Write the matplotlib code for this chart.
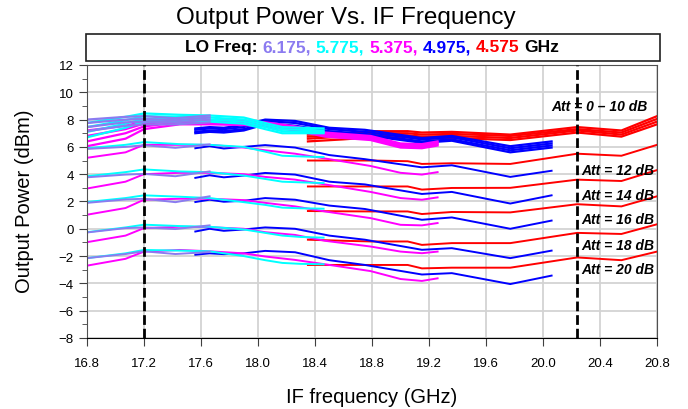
import matplotlib
matplotlib.use("Agg")
import matplotlib.pyplot as plt
from matplotlib.patches import Rectangle
from matplotlib.ticker import MultipleLocator

plt.rcParams['font.family'] = ['Liberation Sans', 'DejaVu Sans']

# IF sweep per LO setting; band = the Att 0..10 dB traces, att = 12/14/16/18/20 dB traces
att_steps = [12, 14, 16, 18, 20]
lo_freqs = ["6.175", "5.775", "5.375", "4.975", "4.575"]
lo_colors = ["#8B7BF0", "#00FFFF", "#FF00FF", "#0000FF", "#FF0000"]

purple_if = [16.8, 17.07, 17.2, 17.42, 17.66]
purple_band = [
    [8.0, 8.2, 8.25, 8.1, 8.3],
    [7.75, 8.0, 8.05, 7.95, 8.15],
    [7.45, 7.8, 7.85, 7.8, 8.0],
    [7.15, 7.55, 7.65, 7.65, 7.8],
]
purple_att = [
    [5.85, 6.0, 6.12, 5.93, 6.18],
    [3.77, 3.97, 4.02, 3.85, 4.2],
    [1.9, 2.15, 2.2, 1.95, 2.38],
    [-0.27, 0.05, 0.1, -0.02, 0.25],
    [-2.15, -1.85, -1.65, -1.85, -1.7],
]

cyan_if = [16.8, 17.07, 17.2, 17.45, 17.66, 17.9, 18.05, 18.17, 18.3, 18.46]
cyan_band = [
    [7.75, 8.2, 8.45, 8.35, 8.3, 8.15, 7.75, 7.45, 7.4, 7.35],
    [7.45, 7.95, 8.25, 8.2, 8.15, 8.0, 7.6, 7.3, 7.25, 7.2],
    [7.1, 7.7, 8.05, 8.05, 8.0, 7.85, 7.45, 7.15, 7.1, 7.1],
    [6.7, 7.4, 7.85, 7.9, 7.85, 7.7, 7.3, 7.0, 7.0, 7.0],
]
cyan_att = [
    [5.9, 6.15, 6.35, 6.2, 6.15, 6.0, 5.65, 5.35, 5.3, 5.25],
    [3.85, 4.15, 4.35, 4.2, 4.15, 3.9, 3.65, 3.45, 3.4, 3.35],
    [1.96, 2.25, 2.45, 2.35, 2.25, 1.95, 1.75, 1.55, 1.5, 1.47],
    [-0.25, 0.1, 0.3, 0.2, 0.15, -0.05, -0.3, -0.5, -0.6, -0.65],
    [-2.15, -1.8, -1.55, -1.6, -1.65, -2.0, -2.3, -2.5, -2.57, -2.6],
]

magenta_if = [16.8, 17.07, 17.2, 17.45, 17.66, 17.9, 18.05, 18.26, 18.47, 18.79, 19.0, 19.15, 19.26]
magenta_band = [
    [7.2, 7.55, 7.85, 8.0, 7.95, 7.9, 7.8, 7.5, 7.05, 6.8, 6.25, 6.2, 6.4],
    [6.8, 7.3, 7.7, 7.9, 7.85, 7.8, 7.7, 7.4, 6.95, 6.7, 6.15, 6.1, 6.3],
    [6.4, 7.0, 7.5, 7.8, 7.75, 7.7, 7.6, 7.3, 6.85, 6.6, 6.05, 6.0, 6.2],
    [6.05, 6.6, 7.3, 7.65, 7.65, 7.6, 7.5, 7.2, 6.75, 6.5, 5.95, 5.9, 6.1],
]
magenta_att = [
    [5.2, 5.6, 6.15, 6.15, 6.15, 5.95, 5.75, 5.5, 5.15, 4.6, 4.1, 3.97, 4.15],
    [2.95, 3.45, 4.0, 4.1, 4.1, 4.0, 3.8, 3.6, 3.25, 2.7, 2.25, 2.13, 2.3],
    [1.03, 1.52, 2.13, 2.2, 2.2, 2.1, 1.9, 1.64, 1.27, 0.78, 0.29, 0.25, 0.42],
    [-0.98, -0.5, 0.05, 0.15, 0.12, 0.0, -0.25, -0.45, -0.88, -1.3, -1.67, -1.79, -1.67],
    [-2.7, -2.2, -1.67, -1.55, -1.65, -1.8, -2.03, -2.28, -2.6, -3.1, -3.68, -3.82, -3.63],
]

blue_if = [17.56, 17.66, 17.76, 17.9, 18.05, 18.26, 18.5, 18.75, 19.15, 19.36, 19.77, 20.06]
blue_band = [
    [7.35, 7.45, 7.4, 7.6, 8.0, 7.9, 7.4, 7.25, 6.65, 6.8, 6.05, 6.4],
    [7.25, 7.35, 7.3, 7.45, 7.9, 7.75, 7.3, 7.1, 6.55, 6.7, 5.9, 6.25],
    [7.1, 7.2, 7.15, 7.3, 7.75, 7.55, 7.15, 6.95, 6.4, 6.55, 5.75, 6.1],
    [7.0, 7.1, 7.05, 7.2, 7.65, 7.4, 7.05, 6.85, 6.3, 6.45, 5.6, 5.95],
]
blue_att = [
    [5.9, 6.05, 5.88, 6.0, 6.13, 5.95, 5.4, 5.1, 4.5, 4.65, 3.8, 4.25],
    [3.73, 3.92, 3.77, 3.9, 4.09, 3.97, 3.45, 3.25, 2.55, 2.7, 1.85, 2.45],
    [1.96, 2.13, 1.98, 2.05, 2.25, 2.13, 1.7, 1.45, 0.66, 0.83, 0.0, 0.6],
    [-0.2, 0.0, -0.15, -0.05, 0.1, 0.0, -0.5, -0.8, -1.54, -1.42, -2.15, -1.6],
    [-1.9, -1.8, -1.86, -1.8, -1.62, -1.72, -2.3, -2.65, -3.35, -3.25, -4.05, -3.43],
]

red_if = [18.35, 18.6, 18.8, 19.05, 19.15, 19.36, 19.77, 20.24, 20.55, 20.8]
red_band = [
    [6.9, 7.0, 7.15, 7.15, 7.05, 7.1, 6.9, 7.45, 7.2, 8.25],
    [6.75, 6.85, 7.0, 7.0, 6.9, 6.95, 6.8, 7.3, 7.05, 8.05],
    [6.6, 6.75, 6.85, 6.85, 6.75, 6.8, 6.65, 7.2, 6.9, 7.85],
    [6.4, 6.55, 6.7, 6.7, 6.6, 6.65, 6.5, 7.05, 6.75, 7.65],
]
red_att = [
    [5.0, 5.0, 5.0, 4.95, 4.75, 4.8, 4.75, 5.5, 5.35, 6.15],
    [3.1, 3.1, 3.1, 3.1, 2.87, 2.99, 3.0, 3.6, 3.5, 4.3],
    [1.3, 1.28, 1.27, 1.27, 1.08, 1.23, 1.2, 1.8, 1.64, 2.38],
    [-0.8, -0.88, -0.93, -0.93, -1.18, -1.05, -1.05, -0.3, -0.38, 0.33],
    [-2.65, -2.65, -2.65, -2.65, -2.9, -2.85, -2.85, -2.1, -2.3, -1.67],
]

att_label_text = ["Att = 0 \u2013 10 dB", "Att = 12 dB", "Att = 14 dB",
                  "Att = 16 dB", "Att = 18 dB", "Att = 20 dB"]
att_label_pos = [(20.06, 9.0), (20.27, 4.3), (20.27, 2.5),
                 (20.27, 0.74), (20.27, -1.18), (20.27, -2.94)]
band_edges = [17.2, 20.24]

fig = plt.figure(figsize=(6.88, 4.10), dpi=100)
ax = fig.add_axes([0.1265, 0.1732, 0.8285, 0.6659])

# red drawn first so the later LO settings sit on top
series = [
    (red_if, red_band, red_att, lo_colors[4]),
    (blue_if, blue_band, blue_att, lo_colors[3]),
    (magenta_if, magenta_band, magenta_att, lo_colors[2]),
    (cyan_if, cyan_band, cyan_att, lo_colors[1]),
    (purple_if, purple_band, purple_att, lo_colors[0]),
]
for f, band, att, c in series:
    for y in band:
        ax.plot(f, y, color=c, lw=1.6, solid_joinstyle='round')
    for y in att:
        ax.plot(f, y, color=c, lw=1.4)

for xv in band_edges:
    ax.axvline(xv, color='black', lw=2.0, ls=(0, (3.5, 1.4)), zorder=5)

for s, (x, y) in zip(att_label_text, att_label_pos):
    ax.text(x, y, s, fontsize=10, fontweight='bold', fontstyle='italic',
            va='center', ha='left', zorder=6)

ax.set_xlim(16.8, 20.8)
ax.set_ylim(-8, 12)
ax.xaxis.set_major_locator(MultipleLocator(0.4))
ax.yaxis.set_major_locator(MultipleLocator(2))
ax.yaxis.set_minor_locator(MultipleLocator(1))
ax.set_xticklabels([f"{v:.1f}" for v in ax.get_xticks()])
ax.grid(True, which='major', color='#D3D3D3', lw=1.3)
ax.set_axisbelow(True)
ax.tick_params(axis='both', which='major', labelsize=9.5, direction='out', length=6, color='#404040')
ax.tick_params(axis='y', which='minor', length=3.5, color='#404040')
ax.tick_params(axis='x', pad=8)
for side in ['left', 'right', 'top']:
    ax.spines[side].set_color('#505050')
ax.spines['bottom'].set_color('black')

fig.text(0.503, 0.955, "Output Power Vs. IF Frequency", fontsize=17.5, ha='center', va='center')
fig.text(0.54, 0.03, "IF frequency (GHz)", fontsize=14.5, ha='center', va='center')
fig.text(0.036, 0.51, "Output Power (dBm)", fontsize=14.5, rotation=90, ha='center', va='center')

# LO legend box above the plot
fig.patches.append(Rectangle((86 / 688, 1 - 62 / 410), 574 / 688, 27 / 410,
                             transform=fig.transFigure, fill=False,
                             edgecolor='#202020', lw=1.2))
parts = [("LO Freq:", "black")]
for lo, c in zip(lo_freqs, lo_colors):
    parts.append((lo + ("," if lo != lo_freqs[-1] else ""), c))
parts.append(("GHz", "black"))

fig.canvas.draw()
r = fig.canvas.get_renderer()
kw = dict(fontsize=12.5, fontweight='bold', va='center', ha='left')
probe1 = fig.text(0, 0, "x x", **kw)
probe2 = fig.text(0, 0, "xx", **kw)
gap = probe1.get_window_extent(r).width - probe2.get_window_extent(r).width
probe1.remove()
probe2.remove()
pieces = [fig.text(0, 0.883, s, color=c, **kw) for s, c in parts]
widths = [t.get_window_extent(r).width for t in pieces]
total = sum(widths) + gap * (len(widths) - 1)
x = 372 - total / 2
for t, w in zip(pieces, widths):
    t.set_x(x / 688)
    x += w + gap

fig.savefig("out.png", dpi=100)
